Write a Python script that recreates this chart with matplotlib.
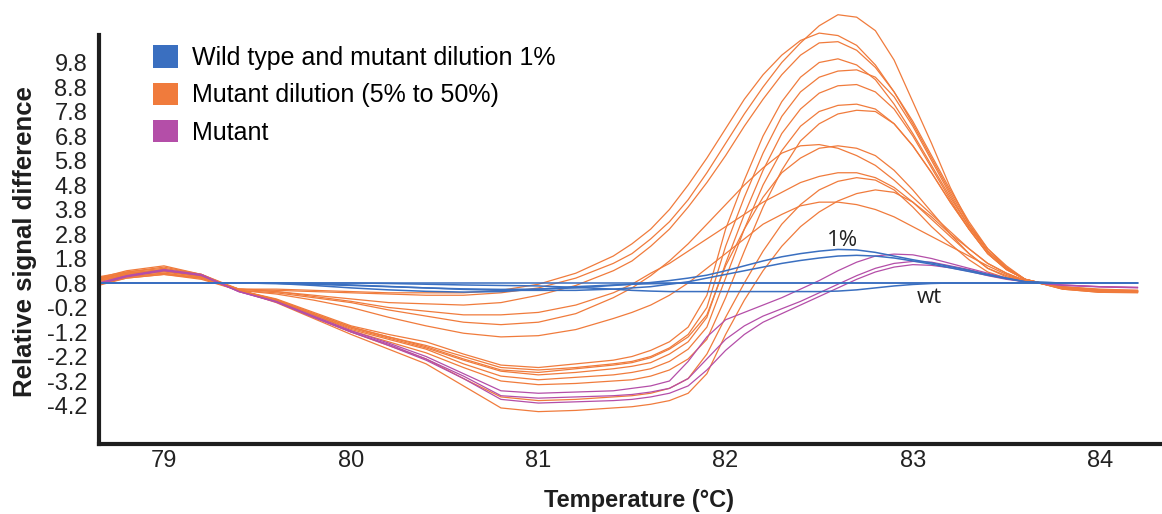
import matplotlib
matplotlib.use("Agg")
import matplotlib.pyplot as plt
from matplotlib.patches import Patch

# temperature grid (deg C) the curves were read at
temp = [78.65, 78.8, 79.0, 79.2, 79.4,
        79.6, 79.8, 80.0, 80.2, 80.4, 80.6, 80.8, 81.0, 81.2, 81.4,
        81.5, 81.6, 81.7, 81.8, 81.9, 82.0, 82.1, 82.2, 82.3, 82.4, 82.5,
        82.6, 82.7, 82.8, 82.9, 83.0, 83.1, 83.2, 83.3, 83.4, 83.5, 83.6,
        83.8, 84.0, 84.2]

# mutant dilutions 5% - 50%, early risers (shallow dip)
dil_a1 = [1.0, 1.3, 1.5, 1.15, 0.55,
          0.5, 0.45, 0.4, 0.35, 0.3, 0.3, 0.4, 0.6, 1.0, 1.6,
          2.0, 2.6, 3.3, 4.2, 5.3, 6.5, 7.7, 8.8, 9.8, 10.6, 11.3,
          11.75, 11.65, 11.1, 9.9, 8.2, 6.5, 4.7, 3.2, 2.1, 1.4, 0.95,
          0.6, 0.48, 0.45]
dil_a2 = [0.9, 1.15, 1.3, 1.05, 0.55,
          0.55, 0.5, 0.45, 0.4, 0.4, 0.4, 0.5, 0.75, 1.2, 1.9,
          2.4, 3.0, 3.8, 4.8, 5.9, 7.1, 8.3, 9.3, 10.1, 10.7, 11.0,
          10.9, 10.5, 9.7, 8.6, 7.3, 5.9, 4.5, 3.2, 2.2, 1.45, 0.95,
          0.55, 0.42, 0.4]
dil_a3 = [0.75, 1.05, 1.2, 1.0, 0.55,
          0.45, 0.3, 0.15, 0.0, -0.05, -0.1, 0.0, 0.3, 0.7, 1.3,
          1.7, 2.3, 3.0, 3.9, 4.9, 6.0, 7.2, 8.3, 9.3, 10.1, 10.6,
          10.65, 10.3, 9.6, 8.6, 7.4, 6.0, 4.6, 3.3, 2.2, 1.5, 0.95,
          0.6, 0.45, 0.45]
dil_a4 = [0.95, 1.2, 1.35, 1.1, 0.5,
          0.4, 0.2, 0.0, -0.3, -0.55, -0.8, -0.9, -0.8, -0.45, 0.2,
          0.6, 1.1, 1.7, 2.4, 3.2, 4.0, 4.8, 5.5, 6.1, 6.4, 6.45,
          6.3, 6.0, 5.6, 5.0, 4.3, 3.6, 2.9, 2.2, 1.6, 1.2, 0.9,
          0.62, 0.5, 0.48]
dil_a5 = [0.7, 1.0, 1.15, 0.95, 0.5,
          0.35, 0.1, -0.2, -0.6, -0.95, -1.25, -1.4, -1.35, -1.1, -0.65,
          -0.4, -0.1, 0.3, 0.8, 1.4, 2.0, 2.6, 3.2, 3.6, 3.95, 4.1,
          4.1, 4.0, 3.8, 3.5, 3.1, 2.7, 2.3, 1.9, 1.5, 1.15, 0.9,
          0.65, 0.55, 0.5]
dil_a6 = [0.9, 1.1, 1.25, 1.05, 0.55,
          0.45, 0.25, 0.05, -0.2, -0.35, -0.5, -0.5, -0.4, -0.1, 0.4,
          0.75, 1.2, 1.6, 2.1, 2.6, 3.1, 3.6, 4.1, 4.5, 4.9, 5.15,
          5.3, 5.3, 5.1, 4.7, 4.1, 3.5, 2.8, 2.2, 1.6, 1.2, 0.9,
          0.6, 0.48, 0.46]

# mutant dilutions, late steep risers (deep dip)
dil_b1 = [1.05, 1.25, 1.4, 1.15, 0.5,
          0.15, -0.4, -0.95, -1.3, -1.6, -2.1, -2.55, -2.65, -2.5, -2.35,
          -2.2, -1.95, -1.6, -1.0, 0.3, 3.0, 5.0, 6.8, 8.2, 9.2, 9.8,
          9.95, 9.7, 9.1, 8.1, 6.9, 5.6, 4.3, 3.1, 2.1, 1.4, 0.95,
          0.55, 0.42, 0.42]
dil_b2 = [0.8, 1.05, 1.2, 1.0, 0.5,
          0.12, -0.45, -1.0, -1.4, -1.75, -2.2, -2.65, -2.75, -2.65, -2.5,
          -2.4, -2.2, -1.85, -1.3, -0.2, 2.3, 4.3, 6.1, 7.6, 8.6, 9.2,
          9.45, 9.5, 9.2, 8.4, 7.2, 5.8, 4.4, 3.1, 2.1, 1.4, 0.95,
          0.58, 0.45, 0.44]
dil_b3 = [0.95, 1.2, 1.35, 1.1, 0.5,
          0.1, -0.5, -1.05, -1.45, -1.85, -2.35, -2.8, -2.95, -2.85, -2.7,
          -2.6, -2.45, -2.1, -1.6, -0.6, 1.6, 3.6, 5.4, 6.9, 7.9, 8.55,
          8.85, 8.9, 8.6, 7.9, 6.8, 5.5, 4.2, 3.0, 2.0, 1.35, 0.95,
          0.6, 0.47, 0.45]
dil_b4 = [0.75, 1.0, 1.15, 1.0, 0.5,
          0.1, -0.5, -1.1, -1.5, -1.9, -2.5, -3.0, -3.15, -3.05, -2.95,
          -2.85, -2.7, -2.4, -1.9, -1.0, 1.0, 3.0, 4.8, 6.2, 7.2, 7.8,
          8.05, 8.1, 7.9, 7.3, 6.4, 5.3, 4.1, 3.0, 2.0, 1.35, 0.95,
          0.57, 0.44, 0.43]
dil_b5 = [0.9, 1.15, 1.3, 1.1, 0.5,
          0.08, -0.55, -1.15, -1.6, -2.05, -2.65, -3.2, -3.35, -3.3, -3.2,
          -3.15, -3.0, -2.75, -2.3, -1.5, 0.2, 2.1, 3.9, 5.4, 6.6, 7.3,
          7.7, 7.85, 7.8, 7.3, 6.4, 5.3, 4.1, 3.0, 2.0, 1.35, 0.95,
          0.6, 0.46, 0.45]
dil_b6 = [1.0, 1.2, 1.3, 1.05, 0.5,
          0.12, -0.45, -1.0, -1.4, -1.8, -2.3, -2.75, -2.85, -2.7, -2.55,
          -2.45, -2.25, -1.9, -1.4, -0.5, 1.5, 3.0, 4.3, 5.3, 5.9, 6.3,
          6.4, 6.3, 6.0, 5.4, 4.6, 3.7, 2.8, 2.0, 1.4, 1.1, 0.9,
          0.62, 0.5, 0.48]
dil_b7 = [0.85, 1.1, 1.3, 1.1, 0.5,
          0.05, -0.6, -1.2, -1.75, -2.3, -3.1, -3.85, -4.0, -3.95, -3.85,
          -3.8, -3.7, -3.5, -3.1, -2.1, -0.6, 0.8, 2.1, 3.2, 4.0, 4.6,
          4.95, 5.1, 5.0, 4.6, 3.9, 3.1, 2.4, 1.75, 1.25, 1.0, 0.9,
          0.65, 0.52, 0.5]
dil_b8 = [0.95, 1.25, 1.45, 1.15, 0.5,
          0.0, -0.65, -1.3, -1.9, -2.5, -3.4, -4.3, -4.45, -4.4, -4.3,
          -4.25, -4.15, -4.0, -3.7, -2.9, -1.3, 0.1, 1.3, 2.3, 3.1, 3.7,
          4.15, 4.45, 4.6, 4.5, 4.1, 3.4, 2.7, 2.0, 1.4, 1.05, 0.9,
          0.63, 0.5, 0.48]

# pure mutant
mut_1 = [0.8, 1.1, 1.35, 1.15, 0.45,
         0.05, -0.55, -1.15, -1.65, -2.2, -2.9, -3.6, -3.7, -3.65, -3.6,
         -3.5, -3.4, -3.2, -2.4, -1.4, -0.7, -0.4, -0.1, 0.2, 0.55, 0.9,
         1.3, 1.65, 1.9, 1.98, 1.95, 1.8, 1.6, 1.4, 1.2, 1.0, 0.85,
         0.72, 0.65, 0.62]
mut_2 = [0.75, 1.05, 1.3, 1.12, 0.45,
         0.03, -0.6, -1.2, -1.7, -2.3, -3.0, -3.8, -3.9, -3.85, -3.8,
         -3.75, -3.65, -3.5, -3.1, -2.3, -1.5, -0.95, -0.55, -0.25, 0.05, 0.4,
         0.75, 1.1, 1.4, 1.6, 1.68, 1.65, 1.5, 1.35, 1.15, 0.98, 0.85,
         0.72, 0.65, 0.62]
mut_3 = [0.78, 1.08, 1.32, 1.1, 0.45,
         0.02, -0.6, -1.2, -1.75, -2.35, -3.1, -3.95, -4.1, -4.05, -4.0,
         -3.95, -3.85, -3.7, -3.4, -2.75, -1.95, -1.3, -0.8, -0.45, -0.1, 0.25,
         0.6, 0.95, 1.25, 1.45, 1.55, 1.52, 1.42, 1.28, 1.1, 0.95, 0.85,
         0.7, 0.64, 0.6]

# wild type and 1% dilution
wt_1 = [0.8, 0.8, 0.8, 0.8, 0.8,
        0.8, 0.8, 0.8, 0.8, 0.8, 0.8, 0.8, 0.8, 0.8, 0.8,
        0.8, 0.8, 0.8, 0.8, 0.8, 0.8, 0.8, 0.8, 0.8, 0.8, 0.8,
        0.8, 0.8, 0.8, 0.8, 0.8, 0.8, 0.8, 0.8, 0.8, 0.8, 0.8,
        0.8, 0.8, 0.8]
wt_2 = [0.8, 0.8, 0.8, 0.8, 0.8,
        0.78, 0.7, 0.6, 0.52, 0.46, 0.43, 0.45, 0.55, 0.65, 0.72,
        0.75, 0.77, 0.78, 0.8, 0.8, 0.8, 0.8, 0.8, 0.8, 0.8, 0.8,
        0.8, 0.8, 0.8, 0.8, 0.8, 0.8, 0.8, 0.8, 0.8, 0.8, 0.8,
        0.8, 0.8, 0.8]
wt_3 = [0.8, 0.8, 0.8, 0.8, 0.8,
        0.8, 0.8, 0.8, 0.78, 0.75, 0.72, 0.7, 0.68, 0.62, 0.55,
        0.5, 0.47, 0.45, 0.45, 0.45, 0.45, 0.45, 0.45, 0.45, 0.45, 0.45,
        0.47, 0.52, 0.6, 0.68, 0.74, 0.78, 0.8, 0.8, 0.8, 0.8, 0.8,
        0.8, 0.8, 0.8]
one_pct_a = [0.8, 0.8, 0.8, 0.8, 0.8,
             0.78, 0.74, 0.7, 0.65, 0.6, 0.56, 0.54, 0.55, 0.6, 0.7,
             0.75, 0.82, 0.9, 1.0, 1.12, 1.3, 1.5, 1.7, 1.87, 2.0, 2.1,
             2.17, 2.15, 2.05, 1.9, 1.75, 1.62, 1.47, 1.32, 1.15, 1.0, 0.85,
             0.8, 0.8, 0.8]
one_pct_b = [0.8, 0.8, 0.8, 0.8, 0.8,
             0.8, 0.78, 0.72, 0.66, 0.6, 0.54, 0.5, 0.5, 0.5, 0.55,
             0.6, 0.65, 0.75, 0.85, 1.0, 1.15, 1.3, 1.45, 1.6, 1.72, 1.82,
             1.9, 1.93, 1.9, 1.82, 1.7, 1.57, 1.42, 1.27, 1.12, 0.98, 0.85,
             0.8, 0.8, 0.8]

dilution_curves = [dil_a1, dil_a2, dil_a3, dil_a4, dil_a5, dil_a6,
                   dil_b1, dil_b2, dil_b3, dil_b4, dil_b5, dil_b6, dil_b7, dil_b8]
mutant_curves = [mut_1, mut_2, mut_3]
wt_curves = [wt_1, wt_2, wt_3, one_pct_a, one_pct_b]

legend_labels = ["Wild type and mutant dilution 1%",
                 "Mutant dilution (5% to 50%)",
                 "Mutant"]
x_ticks = [79, 80, 81, 82, 83, 84]
y_ticks = [9.8, 8.8, 7.8, 6.8, 5.8, 4.8, 3.8, 2.8, 1.8, 0.8,
           -0.2, -1.2, -2.2, -3.2, -4.2]

BLUE = "#3a6fc0"
ORANGE = "#f07b3c"
PURPLE = "#b44ea8"

plt.rcParams["font.family"] = ["Liberation Sans", "DejaVu Sans"]

fig = plt.figure(figsize=(11.62, 5.14), dpi=100)
ax = fig.add_axes([0.0852, 0.1362, 0.9148, 0.8638])

for c in dilution_curves:
    ax.plot(temp, c, color=ORANGE, lw=0.9)
for c in mutant_curves:
    ax.plot(temp, c, color=PURPLE, lw=0.9)
for c in wt_curves:
    ax.plot(temp, c, color=BLUE, lw=1.1)

ax.set_xlim(78.653, 84.331)
ax.set_ylim(-5.771, 12.351)
ax.set_xticks(x_ticks)
ax.set_xticklabels([str(t) for t in x_ticks])
ax.set_yticks(y_ticks)
ax.set_yticklabels(["%.1f" % v for v in y_ticks])
ax.tick_params(axis="both", length=0, labelsize=17, colors="#222222")
ax.tick_params(axis="y", pad=8.5)
ax.tick_params(axis="x", pad=4)

for s in ["top", "right"]:
    ax.spines[s].set_visible(False)
for s in ["left", "bottom"]:
    ax.spines[s].set_linewidth(3)
    ax.spines[s].set_color("#1e1e1e")
ax.spines["left"].set_bounds(-5.771, 10.92)

ax.text(82.627, 2.55, "1%", fontsize=16, family="Open Sans",
        ha="center", va="center", color="#222222")
ax.text(83.09, 0.2, "wt", fontsize=16, family="Open Sans",
        ha="center", va="center", color="#222222")

handles = [Patch(facecolor=BLUE, edgecolor="none"),
           Patch(facecolor=ORANGE, edgecolor="none"),
           Patch(facecolor=PURPLE, edgecolor="none")]
ax.legend(handles, legend_labels, loc="upper left", bbox_to_anchor=(0.0508, 0.898),
          frameon=False, fontsize=18, handlelength=1.0, handleheight=1.0,
          handletextpad=0.56, labelspacing=0.5, borderpad=0, borderaxespad=0)

fig.text(25 / 1162, 1 - 242 / 514, "Relative signal difference", rotation=90,
         ha="center", va="center", fontsize=18.5, fontweight="bold", color="#1e1e1e")
fig.text(639 / 1162, 1 - 500 / 514, "Temperature (\u00b0C)",
         ha="center", va="center", fontsize=17, fontweight="bold", color="#1e1e1e")

fig.savefig("out.png", dpi=100)
